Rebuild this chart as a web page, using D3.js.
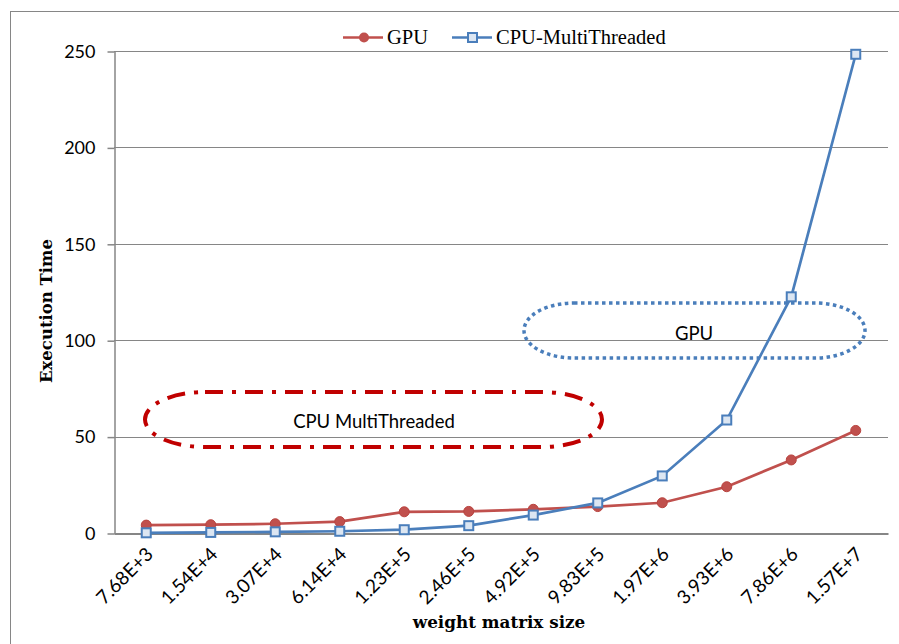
<!DOCTYPE html>
<html>
<head>
<meta charset="utf-8">
<script src="https://cdn.jsdelivr.net/npm/d3@7"></script>
<style>
  html, body { margin: 0; padding: 0; background: #fff; }
  svg { display: block; }
</style>
</head>
<body>
<svg id="chart" width="899" height="644"></svg>
<script>
// Weight matrix sizes (category axis)
const categories = ["7.68E+3", "1.54E+4", "3.07E+4", "6.14E+4", "1.23E+5", "2.46E+5",
                    "4.92E+5", "9.83E+5", "1.97E+6", "3.93E+6", "7.86E+6", "1.57E+7"];
// Execution time per configuration
const gpuValues = [4.1, 4.3, 4.8, 5.9, 11.0, 11.2, 12.3, 13.7, 15.7, 24.0, 37.9, 53.2];
const cpuValues = [0.1, 0.3, 0.6, 0.9, 1.7, 3.8, 9.3, 15.6, 29.6, 58.6, 122.5, 248.3];
const yTicks = [0, 50, 100, 150, 200, 250];
const seriesNames = ["GPU", "CPU-MultiThreaded"];

const svg = d3.select("#chart");
const W = 899, H = 644;
const plot = { left: 114, right: 888, top: 51, bottom: 533 };

const gpuColor = "#c0504d";
const cpuColor = "#4a7ebb";
const axisColor = "#868686";

// outer chart frame
svg.append("rect")
  .attr("x", 10.5).attr("y", 11.5)
  .attr("width", W + 20).attr("height", H + 20)
  .attr("fill", "#fff").attr("stroke", axisColor).attr("stroke-width", 1);

const x = d3.scaleBand().domain(categories).range([plot.left, plot.right]);
const y = d3.scaleLinear().domain([0, 250]).range([plot.bottom, plot.top]);
const cx = c => x(c) + x.bandwidth() / 2;

// horizontal gridlines
svg.append("g").selectAll("line").data(yTicks.filter(t => t > 0)).join("line")
  .attr("x1", plot.left).attr("x2", plot.right)
  .attr("y1", d => Math.round(y(d)) + 0.5).attr("y2", d => Math.round(y(d)) + 0.5)
  .attr("stroke", axisColor).attr("stroke-width", 1);

// y axis
const yAxis = svg.append("g")
  .attr("transform", `translate(${plot.left + 0.5},0.5)`)
  .call(d3.axisLeft(y).tickValues(yTicks).tickSize(7).tickPadding(12).tickSizeOuter(0));
yAxis.select(".domain").attr("stroke", axisColor).attr("stroke-width", 1.5);
yAxis.selectAll(".tick line").attr("stroke", axisColor).attr("stroke-width", 1.5);
yAxis.selectAll(".tick text")
  .attr("font-family", "Lato, 'Open Sans', sans-serif")
  .attr("font-size", 18).attr("fill", "#000");

// x axis baseline
const xAxis = svg.append("g")
  .attr("transform", `translate(0,${Math.round(plot.bottom) + 0.5})`)
  .call(d3.axisBottom(x).tickSize(0).tickSizeOuter(0).tickPadding(0));
xAxis.select(".domain").attr("stroke", axisColor).attr("stroke-width", 2);
xAxis.selectAll(".tick text")
  .attr("font-family", "Lato, 'Open Sans', sans-serif")
  .attr("font-size", 19).attr("fill", "#000")
  .attr("text-anchor", "end")
  .attr("dy", null)
  .attr("transform", "translate(8,22) rotate(-45)");

// axis titles
svg.append("text")
  .attr("transform", `translate(52,${(plot.top + plot.bottom) / 2 + 19}) rotate(-90)`)
  .attr("text-anchor", "middle")
  .attr("font-family", "'DejaVu Serif', 'Liberation Serif', serif")
  .attr("font-weight", "bold").attr("font-size", 16.5)
  .text("Execution Time");
svg.append("text")
  .attr("x", 499).attr("y", 628)
  .attr("text-anchor", "middle")
  .attr("font-family", "'DejaVu Serif', 'Liberation Serif', serif")
  .attr("font-weight", "bold").attr("font-size", 16.8)
  .text("weight matrix size");

// annotation callouts
const notes = svg.append("g");
notes.append("rect")
  .attr("x", 145).attr("y", 392).attr("width", 457).attr("height", 55)
  .attr("rx", 60).attr("ry", 27.5)
  .attr("fill", "none").attr("stroke", "#c00000").attr("stroke-width", 4)
  .attr("stroke-dasharray", "18,9,4,9");
notes.append("text")
  .attr("x", 374).attr("y", 428).attr("text-anchor", "middle")
  .attr("font-family", "Lato, 'Open Sans', sans-serif").attr("font-size", 18.5)
  .text("CPU MultiThreaded");
notes.append("rect")
  .attr("x", 524).attr("y", 303).attr("width", 341).attr("height", 55)
  .attr("rx", 50).attr("ry", 27.5)
  .attr("fill", "none").attr("stroke", cpuColor).attr("stroke-width", 3.5)
  .attr("stroke-dasharray", "3.5,3.5");
notes.append("text")
  .attr("x", 694).attr("y", 340).attr("text-anchor", "middle")
  .attr("font-family", "Lato, 'Open Sans', sans-serif").attr("font-size", 18.5)
  .text("GPU");

// series lines
const line = d3.line().x((d, i) => cx(categories[i])).y(d => y(d));
svg.append("path").datum(gpuValues).attr("d", line)
  .attr("fill", "none").attr("stroke", gpuColor).attr("stroke-width", 2.7);
svg.append("path").datum(cpuValues).attr("d", line)
  .attr("fill", "none").attr("stroke", cpuColor).attr("stroke-width", 2.7);

// markers
svg.append("g").selectAll("circle").data(gpuValues).join("circle")
  .attr("cx", (d, i) => cx(categories[i])).attr("cy", d => y(d)).attr("r", 5)
  .attr("fill", gpuColor).attr("stroke", "#b9433f").attr("stroke-width", 1);
svg.append("g").selectAll("rect").data(cpuValues).join("rect")
  .attr("x", (d, i) => cx(categories[i]) - 4.5).attr("y", d => y(d) - 4.5)
  .attr("width", 9).attr("height", 9)
  .attr("fill", "#dce6f2").attr("stroke", cpuColor).attr("stroke-width", 2);

// legend
const legend = svg.append("g");
const legendItems = [
  { name: seriesNames[0], x0: 343, color: gpuColor, shape: "circle" },
  { name: seriesNames[1], x0: 452, color: cpuColor, shape: "square" }
];
legendItems.forEach(it => {
  const g = legend.append("g");
  g.append("line").attr("x1", it.x0).attr("x2", it.x0 + 40)
    .attr("y1", 37.5).attr("y2", 37.5)
    .attr("stroke", it.color).attr("stroke-width", 2.5);
  if (it.shape === "circle") {
    g.append("circle").attr("cx", it.x0 + 21).attr("cy", 37.5).attr("r", 5)
      .attr("fill", it.color);
  } else {
    g.append("rect").attr("x", it.x0 + 16).attr("y", 33).attr("width", 9).attr("height", 9)
      .attr("fill", "#dce6f2").attr("stroke", it.color).attr("stroke-width", 2);
  }
  g.append("text").attr("x", it.x0 + 44).attr("y", 44)
    .attr("font-family", "'Liberation Serif', 'DejaVu Serif', serif")
    .attr("font-size", 20.5).attr("fill", "#000")
    .text(it.name);
});
</script>
</body>
</html>
